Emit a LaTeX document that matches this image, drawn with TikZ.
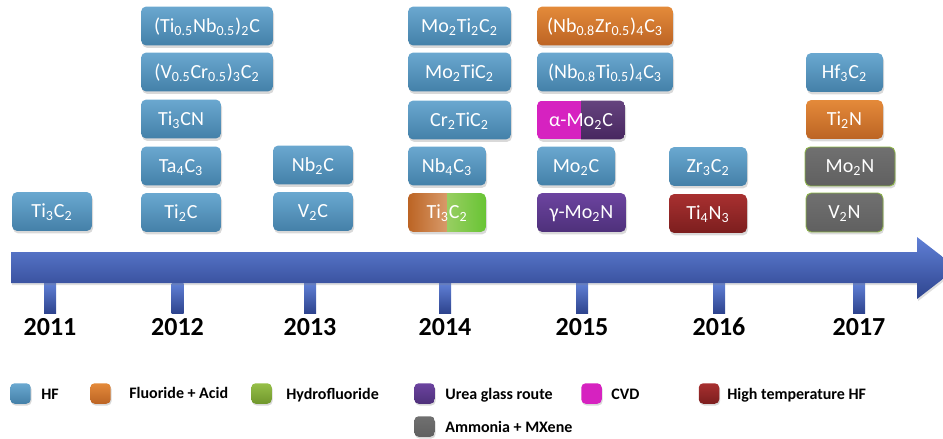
\documentclass[tikz,border=0pt]{standalone}
\usepackage{fontspec}
\setmainfont{Carlito}
\usetikzlibrary{shadows}
\usepackage{xcolor}

\newcommand{\ssub}[1]{\textsubscript{#1}}

\definecolor{hfA}{RGB}{106,168,208}
\definecolor{hfB}{RGB}{68,128,168}
\definecolor{faA}{RGB}{228,138,58}
\definecolor{faB}{RGB}{188,100,36}
\definecolor{hydA}{RGB}{150,192,72}
\definecolor{hydB}{RGB}{112,150,44}
\definecolor{grA}{RGB}{152,206,98}
\definecolor{grB}{RGB}{104,196,52}
\definecolor{ugA}{RGB}{108,68,160}
\definecolor{ugB}{RGB}{78,48,122}
\definecolor{ugD}{RGB}{84,46,112}
\definecolor{cvd}{RGB}{214,34,192}
\definecolor{htA}{RGB}{168,48,48}
\definecolor{htB}{RGB}{124,30,30}
\definecolor{amA}{RGB}{112,112,112}
\definecolor{amB}{RGB}{96,96,96}
\definecolor{amline}{RGB}{140,180,70}
\definecolor{arA}{RGB}{96,128,214}
\definecolor{arB}{RGB}{46,68,142}

\tikzset{
    mx/.style={rounded corners=3pt, minimum height=0.78cm, inner sep=0pt,
        text height=7.3pt, text depth=0pt, text=white,
        font=\fontsize{11.4}{13}\selectfont,
        drop shadow={shadow xshift=0.6pt, shadow yshift=-1.4pt, opacity=0.3}},
    hf/.style={mx, top color=hfA, bottom color=hfB},
    fa/.style={mx, top color=faA, bottom color=faB},
    ug/.style={mx, top color=ugA, bottom color=ugB},
    ht/.style={mx, top color=htA, bottom color=htB},
    am/.style={mx, top color=amA, bottom color=amB, draw=amline, line width=0.5pt},
    key/.style={rounded corners=2.5pt, minimum width=0.41cm, minimum height=0.41cm, inner sep=0pt,
        drop shadow={shadow xshift=0.5pt, shadow yshift=-1pt, opacity=0.3}},
    lab/.style={anchor=base west, inner sep=0pt, font=\bfseries\fontsize{9.1}{11}\selectfont},
    yr/.style={anchor=base, inner sep=0pt, font=\bfseries\fontsize{14.8}{17}\selectfont},
}

\begin{document}
\begin{tikzpicture}[x=0.02cm,y=-0.02cm]
            \useasboundingbox (0,0) rectangle (943,439);
            \clip (0,0) rectangle (943,439);

            % year ticks
            \shade[top color=arA, bottom color=arB] (44,283) rectangle (56,313);
            \shade[top color=arA, bottom color=arB] (171.5,283) rectangle (183.5,313);
            \shade[top color=arA, bottom color=arB] (304,283) rectangle (316,313);
            \shade[top color=arA, bottom color=arB] (439,283) rectangle (451,313);
            \shade[top color=arA, bottom color=arB] (576,283) rectangle (588,313);
            \shade[top color=arA, bottom color=arB] (713,283) rectangle (725,313);
            \shade[top color=arA, bottom color=arB] (853,283) rectangle (865,313);

            % time arrow
            \shade[top color=arA, bottom color=arB, drop shadow={shadow xshift=0.6pt, shadow yshift=-1.2pt, opacity=0.25}]
                (11,252) -- (917,252) -- (917,237) -- (957,268) -- (917,299) -- (917,283) -- (11,283) -- cycle;

            % years
            \node[yr] (y11) at (50,335) {2011};
            \node[yr] (y12) at (177.5,335) {2012};
            \node[yr] (y13) at (310,335) {2013};
            \node[yr] (y14) at (445,335) {2014};
            \node[yr] (y15) at (582,335) {2015};
            \node[yr] (y16) at (719,335) {2016};
            \node[yr] (y17) at (859,335) {2017};

            % 2011
            \node[hf, minimum width=1.6cm] (a11) at (52,211.5) {Ti\ssub{3}C\ssub{2}};

            % 2012
            \node[hf, minimum width=2.64cm] (a12) at (207,26) {(Ti\ssub{0.5}Nb\ssub{0.5})\ssub{2}C};
            \node[hf, minimum width=2.64cm] (b12) at (207,72) {(V\ssub{0.5}Cr\ssub{0.5})\ssub{3}C\ssub{2}};
            \node[hf, minimum width=1.6cm] (c12) at (181,119) {Ti\ssub{3}CN};
            \node[hf, minimum width=1.6cm] (d12) at (181,166) {Ta\ssub{4}C\ssub{3}};
            \node[hf, minimum width=1.6cm] (e12) at (181,212.5) {Ti\ssub{2}C};

            % 2013
            \node[hf, minimum width=1.6cm] (a13) at (313,165) {Nb\ssub{2}C};
            \node[hf, minimum width=1.6cm] (b13) at (313,211.5) {V\ssub{2}C};

            % 2014
            \node[hf, minimum width=2.06cm] (a14) at (459.5,26) {Mo\ssub{2}Ti\ssub{2}C\ssub{2}};
            \node[hf, minimum width=2.06cm] (b14) at (459.5,72) {Mo\ssub{2}TiC\ssub{2}};
            \node[hf, minimum width=2.06cm] (c14) at (459.5,120) {Cr\ssub{2}TiC\ssub{2}};
            \node[hf, minimum width=1.56cm] (d14) at (447,166) {Nb\ssub{4}C\ssub{3}};
            \node[mx, minimum width=1.56cm, path picture={
                \shade[sharp corners, left color=faB, right color=faA!40!white] (path picture bounding box.south west) rectangle (path picture bounding box.north);
                \shade[sharp corners, left color=grA, right color=grB] (path picture bounding box.south) rectangle (path picture bounding box.north east);}]
                (e14) at (447,212.5) {Ti\ssub{3}C\ssub{2}};

            % 2015
            \node[fa, minimum width=2.72cm] (a15) at (605,26) {(Nb\ssub{0.8}Zr\ssub{0.5})\ssub{4}C\ssub{3}};
            \node[hf, minimum width=2.72cm] (b15) at (605,72) {(Nb\ssub{0.8}Ti\ssub{0.5})\ssub{4}C\ssub{3}};
            \node[mx, minimum width=1.76cm, path picture={
                \fill[sharp corners, cvd] (path picture bounding box.south west) rectangle (path picture bounding box.north);
                \shade[sharp corners, top color=ugD!90!white, bottom color=ugD!85!black] (path picture bounding box.south) rectangle (path picture bounding box.north east);}]
                (c15) at (581,120) {α-Mo\ssub{2}C};
            \node[hf, minimum width=1.56cm] (d15) at (576,166) {Mo\ssub{2}C};
            \node[ug, minimum width=1.78cm] (e15) at (581.5,212.5) {γ-Mo\ssub{2}N};

            % 2016
            \node[hf, minimum width=1.56cm] (a16) at (708,166.5) {Zr\ssub{3}C\ssub{2}};
            \node[ht, minimum width=1.56cm] (b16) at (708,213.5) {Ti\ssub{4}N\ssub{3}};

            % 2017
            \node[hf, minimum width=1.54cm] (a17) at (844.5,72.5) {Hf\ssub{3}C\ssub{2}};
            \node[fa, minimum width=1.54cm] (b17) at (844.5,119.5) {Ti\ssub{2}N};
            \node[am, minimum width=1.8cm] (c17) at (850,166.5) {Mo\ssub{2}N};
            \node[am, minimum width=1.54cm] (d17) at (844.5,212.5) {V\ssub{2}N};

            % legend
            \node[key, top color=hfA, bottom color=hfB] (khf) at (20.5,393.5) {};
            \node[lab] (lhf) at (41,399.5) {HF};
            \node[key, top color=faA, bottom color=faB] (kfa) at (100.5,393.5) {};
            \node[lab] (lfa) at (129,398.5) {Fluoride + Acid};
            \node[key, top color=hydA, bottom color=hydB] (khy) at (261.5,393.5) {};
            \node[lab] (lhy) at (286,399.5) {Hydrofluoride};
            \node[key, top color=ugA, bottom color=ugB] (kug) at (424.5,393.5) {};
            \node[lab] (lug) at (445,399.5) {Urea glass route};
            \node[key, fill=cvd] (kcvd) at (591.5,393.5) {};
            \node[lab] (lcvd) at (611,399.5) {CVD};
            \node[key, top color=htA, bottom color=htB] (kht) at (709,393.5) {};
            \node[lab] (lht) at (727,399.5) {High temperature HF};
            \node[key, top color=amA, bottom color=amB] (kam) at (424.5,426.5) {};
            \node[lab] (lam) at (445,432) {Ammonia + MXene};

        \end{tikzpicture}
\end{document}
